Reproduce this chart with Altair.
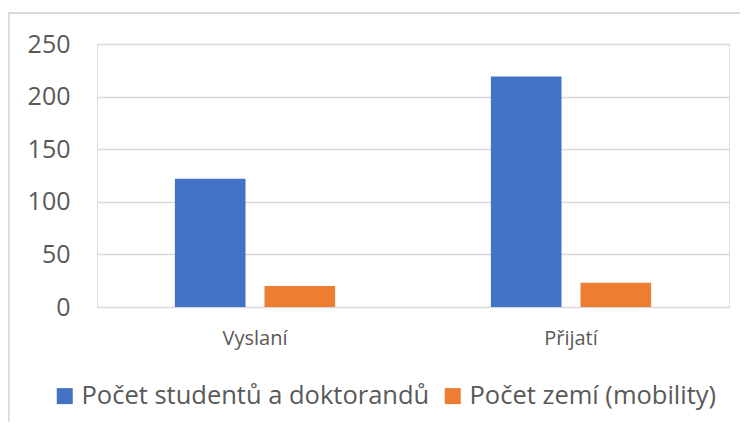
import altair as alt
import pandas as pd

categories = ["Vyslaní", "Přijatí"]
series_names = ["Počet studentů a doktorandů", "Počet zemí (mobility)"]
students = [122, 219]
countries = [20, 23]
colors = ["#4472C4", "#ED7D31"]
y_ticks = [0, 50, 100, 150, 200, 250]

rows = []
for i, c in enumerate(categories):
    rows.append({"kategorie": c, "serie": series_names[0], "hodnota": students[i]})
    rows.append({"kategorie": c, "serie": series_names[1], "hodnota": countries[i]})
df = pd.DataFrame(rows)

FONT = "Open Sans"
TXT = "#595959"
GRID = "#D9D9D9"

bars = alt.Chart(df).mark_bar().encode(
    x=alt.X("kategorie:N", sort=categories, title=None,
            scale=alt.Scale(paddingInner=0, paddingOuter=0),
            axis=alt.Axis(labelAngle=0, labelFont=FONT, labelFontSize=20,
                          labelColor=TXT, ticks=False, domain=False,
                          labelPadding=21, labelBaseline="top")),
    xOffset=alt.XOffset("serie:N", sort=series_names,
                        scale=alt.Scale(paddingInner=0.212, paddingOuter=0.869)),
    y=alt.Y("hodnota:Q", title=None,
            scale=alt.Scale(domain=[0, 250], nice=False),
            axis=alt.Axis(values=y_ticks, labelFont=FONT, labelFontSize=25,
                          labelColor=TXT, ticks=False, domain=False,
                          labelPadding=27, gridColor=GRID, gridWidth=1.5)),
    color=alt.Color("serie:N", sort=series_names,
                    scale=alt.Scale(domain=series_names, range=colors),
                    legend=alt.Legend(title=None, orient="none", direction="horizontal",
                                      legendX=-45, legendY=339,
                                      symbolType="square", symbolSize=256,
                                      symbolStrokeWidth=0, symbolOpacity=1,
                                      labelFont=FONT, labelFontSize=25.5,
                                      labelColor=TXT, labelOffset=4,
                                      columnPadding=10, labelLimit=0)),
)

frame_top = alt.Chart(df).mark_rule(color=GRID, strokeWidth=1.5).encode(
    x=alt.value(-88.5), x2=alt.value(700), y=alt.value(-31), y2=alt.value(-31))
frame_left = alt.Chart(df).mark_rule(color=GRID, strokeWidth=1.5).encode(
    x=alt.value(-88.5), x2=alt.value(-88.5), y=alt.value(-31), y2=alt.value(420))

chart = alt.layer(frame_top, frame_left, bars).properties(
    width=632, height=263,
    autosize=alt.AutoSizeParams(type="none"),
    padding={"left": 89, "top": 36, "right": 11, "bottom": 115},
).configure_view(stroke=None).configure(background="white")

chart.save("out.html", embed_options={"renderer": "svg", "actions": False})
